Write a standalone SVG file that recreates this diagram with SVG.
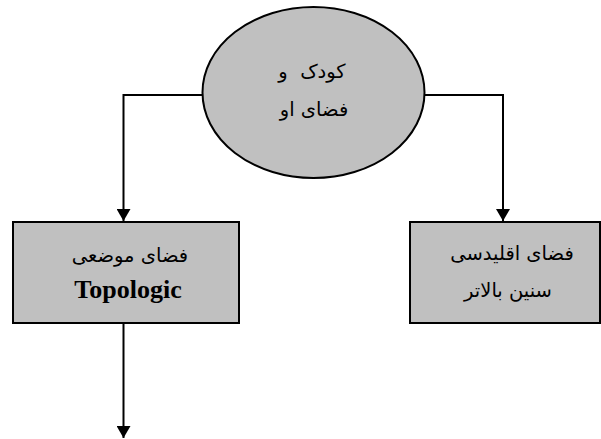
<svg xmlns="http://www.w3.org/2000/svg" width="601" height="439" viewBox="0 0 601 439">
<style>
.shape{fill:#c0c0c0;stroke:#000;stroke-width:2}
.line{fill:none;stroke:#000;stroke-width:2}
.fa{font-family:"DejaVu Sans",sans-serif;font-size:19.5px;fill:#000;text-anchor:middle}
.en{font-family:"Liberation Serif",serif;font-size:26px;font-weight:bold;fill:#000;text-anchor:middle}
</style>
<defs>
<marker id="arr" viewBox="0 0 12 14" refX="12" refY="7" markerWidth="12" markerHeight="14" markerUnits="userSpaceOnUse" orient="auto">
<path d="M0,0 L12,7 L0,14 Z" fill="#000"/>
</marker>
</defs>
<g id="connectors">
<path class="line" d="M203,95 H123.5 V221" marker-end="url(#arr)"/>
<path class="line" d="M424,95 H503 V221" marker-end="url(#arr)"/>
<path class="line" d="M123.5,323 V438" marker-end="url(#arr)"/>
</g>
<g id="root">
<ellipse class="shape" cx="313.5" cy="92.5" rx="111" ry="85.5"/>
<text class="fa" x="312" y="78" xml:space="preserve">کودک  و</text>
<text class="fa" x="314" y="116">فضای او</text>
</g>
<g id="topologic">
<rect class="shape" x="13" y="222" width="226" height="101"/>
<text class="fa" x="130" y="262">فضای موضعی</text>
<text class="en" x="128" y="298">Topologic</text>
</g>
<g id="euclidean">
<rect class="shape" x="410" y="222" width="190" height="101"/>
<text class="fa" x="512" y="260">فضای اقلیدسی</text>
<text class="fa" x="508" y="297">سنین بالاتر</text>
</g>
</svg>
